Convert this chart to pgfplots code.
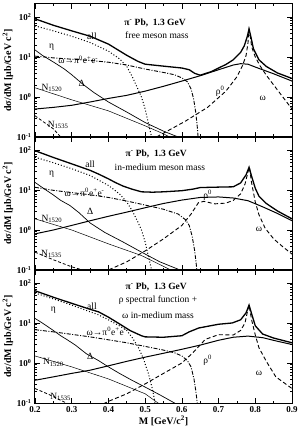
\documentclass[border=0pt]{standalone}
\usepackage{fontspec}
\setmainfont{Liberation Serif}
\usepackage{pgfplots}
\pgfplotsset{compat=1.18}
\tikzset{
 allc/.style={black, line width=1.3pt},
 rhoc/.style={black, line width=1.0pt},
 delc/.style={black, line width=0.7pt},
 nac/.style={black, line width=0.5pt},
 nbc/.style={black, line width=0.8pt, dash pattern=on 3pt off 2pt},
 etac/.style={black, line width=1.0pt, dash pattern=on 1pt off 2pt},
 omc/.style={black, line width=0.9pt, dash pattern=on 4pt off 2.5pt},
 omdc/.style={black, line width=0.9pt, dash pattern=on 4pt off 1.5pt on 1pt off 1.5pt},
 lab/.style={font=\fontsize{9.5}{11}\selectfont},
 ttl/.style={font=\bfseries\fontsize{9.5}{11}\selectfont},
}
\begin{document}
\begin{tikzpicture}
\useasboundingbox (-35pt,-33pt) rectangle (269pt,403pt);
% ---------------- panel 1 ----------------
\begin{axis}[scale only axis, width=257pt, height=133pt,
  xmin=0.2, xmax=0.9, ymode=log, ymin=0.1, ymax=211,
  xtick={0.2,0.3,0.4,0.5,0.6,0.7,0.8,0.9}, minor x tick num=1,
  ytick={0.1,1,10,100},
  yticklabels={\textbf{10}\textsuperscript{\textbf{-1}},\textbf{10}\textsuperscript{\textbf{0}},\textbf{10}\textsuperscript{\textbf{1}},\textbf{10}\textsuperscript{\textbf{2}}},
  tick align=inside, major tick length=5pt, minor tick length=2.5pt,
  tick style={black, line width=0.7pt}, axis line style={line width=1pt},
  ticklabel style={font=\bfseries\fontsize{9}{10}\selectfont},
  ylabel={\textbf{dσ/dM [μb/GeV c\textsuperscript{2}]}},
  ylabel style={at={(axis description cs:-0.105,0.5)}, anchor=center, font=\fontsize{10}{11}\selectfont},
  at={(0,266pt)}, xticklabels={}]
\addplot[allc] coordinates {(0.2,90) (0.25,62) (0.3,45) (0.35,33) (0.4,21) (0.45,11) (0.48,7.8) (0.5,6.6) (0.55,5.9) (0.6,5.3) (0.62,4.8) (0.635,3.9) (0.65,3.5) (0.68,4.3) (0.7,5.3) (0.72,6.5) (0.74,8.5) (0.76,13) (0.77,19) (0.778,32) (0.783,50) (0.788,32) (0.795,16) (0.81,8.5) (0.83,5.8) (0.86,4.0) (0.9,2.9)};
\addplot[etac] coordinates {(0.2,60) (0.25,45) (0.3,33) (0.35,23) (0.4,14) (0.43,9) (0.45,5.8) (0.465,3.2) (0.48,1.6) (0.49,1.0) (0.5,0.5) (0.51,0.2) (0.52,0.08)};
\addplot[rhoc] coordinates {(0.2,0.5) (0.25,0.55) (0.3,0.62) (0.35,0.75) (0.4,0.92) (0.45,1.1) (0.5,1.4) (0.55,1.85) (0.6,2.5) (0.65,3.4) (0.7,4.8) (0.74,6.3) (0.76,6.8) (0.78,6.6) (0.8,5.6) (0.85,3.8) (0.9,2.5)};
\addplot[omc] coordinates {(0.5,0.07) (0.56,0.14) (0.61,0.25) (0.67,0.55) (0.72,1.4) (0.75,3.2) (0.765,6) (0.775,11) (0.78,22) (0.783,48) (0.787,30) (0.79,18) (0.8,10) (0.813,6) (0.83,3.5) (0.85,2) (0.875,1) (0.9,0.5)};
\addplot[omdc] coordinates {(0.2,10.5) (0.25,9.5) (0.3,8.8) (0.35,8.2) (0.4,7.4) (0.45,6.3) (0.5,5.0) (0.55,4.1) (0.58,3.6) (0.6,3.0) (0.615,2.4) (0.625,1.6) (0.632,0.9) (0.638,0.4) (0.642,0.18) (0.645,0.08)};
\addplot[delc] coordinates {(0.2,15) (0.22,11) (0.25,7.5) (0.28,5) (0.3,3.6) (0.33,2.1) (0.36,1.3) (0.4,0.75) (0.45,0.42) (0.5,0.23) (0.55,0.14) (0.59,0.1) (0.62,0.07)};
\addplot[nac] coordinates {(0.2,1.7) (0.3,0.85) (0.4,0.45) (0.5,0.19) (0.55,0.12) (0.6,0.07)};
\addplot[nbc] coordinates {(0.2,0.34) (0.22,0.25) (0.25,0.16) (0.27,0.1) (0.3,0.06)};
\node[ttl] at (axis cs:0.527,71) {π\textsuperscript{-} Pb,\ \ 1.3 GeV};
\node[lab] at (axis cs:0.532,35) {free meson mass};
\node[lab] at (axis cs:0.355,33) {all};
\node[lab] at (axis cs:0.245,17) {η};
\node[lab] at (axis cs:0.318,8.5) {ω→π\textsuperscript{0}e\textsuperscript{+}e\textsuperscript{-}};
\node[lab] at (axis cs:0.327,2.2) {Δ};
\node[lab] at (axis cs:0.246,1.66) {N\textsubscript{1520}};
\node[lab] at (axis cs:0.263,0.2) {N\textsubscript{1535}};
\node[lab] at (axis cs:0.704,1.4) {ρ\textsuperscript{0}};
\node[lab] at (axis cs:0.82,0.95) {ω};
\end{axis}
% ---------------- panel 2 ----------------
\begin{axis}[scale only axis, width=257pt, height=133pt,
  xmin=0.2, xmax=0.9, ymode=log, ymin=0.1, ymax=211,
  xtick={0.2,0.3,0.4,0.5,0.6,0.7,0.8,0.9}, minor x tick num=1,
  ytick={0.1,1,10,100},
  yticklabels={\textbf{10}\textsuperscript{\textbf{-1}},\textbf{10}\textsuperscript{\textbf{0}},\textbf{10}\textsuperscript{\textbf{1}},\textbf{10}\textsuperscript{\textbf{2}}},
  tick align=inside, major tick length=5pt, minor tick length=2.5pt,
  tick style={black, line width=0.7pt}, axis line style={line width=1pt},
  ticklabel style={font=\bfseries\fontsize{9}{10}\selectfont},
  ylabel={\textbf{dσ/dM [μb/GeV c\textsuperscript{2}]}},
  ylabel style={at={(axis description cs:-0.105,0.5)}, anchor=center, font=\fontsize{10}{11}\selectfont},
  at={(0,133pt)}, xticklabels={}]
\addplot[allc] coordinates {(0.2,96) (0.25,65) (0.3,45) (0.35,31) (0.373,25) (0.4,19) (0.418,15.5) (0.44,12.5) (0.464,10.5) (0.49,9) (0.52,8.8) (0.55,9.0) (0.6,9.6) (0.63,10.5) (0.65,11.5) (0.7,11.8) (0.74,12) (0.76,15) (0.775,24) (0.783,37) (0.79,22) (0.8,11) (0.81,7) (0.83,4.6) (0.86,3) (0.9,1.9)};
\addplot[etac] coordinates {(0.2,66) (0.25,48) (0.3,34) (0.35,23) (0.4,13) (0.43,8) (0.45,5) (0.465,3) (0.48,1.6) (0.49,1.0) (0.5,0.5) (0.51,0.2) (0.52,0.08)};
\addplot[rhoc] coordinates {(0.2,0.8) (0.25,1.0) (0.3,1.3) (0.35,1.7) (0.4,2.2) (0.45,2.8) (0.5,3.6) (0.55,4.6) (0.6,5.6) (0.65,6.5) (0.7,6.7) (0.74,6.3) (0.78,5.4) (0.82,3.8) (0.86,2.6) (0.9,1.7)};
\addplot[omc] coordinates {(0.37,0.07) (0.4,0.1) (0.45,0.16) (0.5,0.3) (0.55,0.6) (0.6,1.3) (0.625,2.5) (0.645,4.8) (0.66,5.2) (0.69,4.5) (0.72,4.7) (0.74,5.5) (0.76,8) (0.772,14) (0.78,28) (0.784,37) (0.79,15) (0.8,5) (0.81,2.4) (0.827,1.1) (0.85,0.6) (0.875,0.38) (0.9,0.25)};
\addplot[omdc] coordinates {(0.2,11.7) (0.25,9.8) (0.3,8.6) (0.35,7.6) (0.4,6.5) (0.45,5.3) (0.5,4.2) (0.55,3.3) (0.59,2.5) (0.61,1.8) (0.62,1.3) (0.628,0.7) (0.635,0.3) (0.64,0.12) (0.643,0.06)};
\addplot[delc] coordinates {(0.2,15.5) (0.22,11.5) (0.25,7.5) (0.27,5.5) (0.295,4.1) (0.32,2.7) (0.35,1.5) (0.39,0.87) (0.44,0.5) (0.49,0.28) (0.54,0.16) (0.595,0.1) (0.62,0.08)};
\addplot[nac] coordinates {(0.2,1.9) (0.3,1.0) (0.4,0.45) (0.49,0.23) (0.57,0.1) (0.6,0.08)};
\addplot[nbc] coordinates {(0.2,0.28) (0.25,0.18) (0.3,0.12) (0.33,0.1) (0.36,0.08)};
\node[ttl] at (axis cs:0.53,80) {π\textsuperscript{-} Pb,\ \ 1.3 GeV};
\node[lab] at (axis cs:0.54,37) {in-medium meson mass};
\node[lab] at (axis cs:0.35,45) {all};
\node[lab] at (axis cs:0.245,25) {η};
\node[lab] at (axis cs:0.335,8.7) {ω→π\textsuperscript{0}e\textsuperscript{+}e\textsuperscript{-}};
\node[lab] at (axis cs:0.35,3.0) {Δ};
\node[lab] at (axis cs:0.246,1.9) {N\textsubscript{1520}};
\node[lab] at (axis cs:0.245,0.25) {N\textsubscript{1535}};
\node[lab] at (axis cs:0.67,7.2) {ρ\textsuperscript{0}};
\node[lab] at (axis cs:0.81,1.06) {ω};
\end{axis}
% ---------------- panel 3 ----------------
\begin{axis}[scale only axis, width=257pt, height=133pt,
  xmin=0.2, xmax=0.9, ymode=log, ymin=0.1, ymax=211,
  xtick={0.2,0.3,0.4,0.5,0.6,0.7,0.8,0.9}, minor x tick num=1,
  ytick={0.1,1,10,100},
  yticklabels={\textbf{10}\textsuperscript{\textbf{-1}},\textbf{10}\textsuperscript{\textbf{0}},\textbf{10}\textsuperscript{\textbf{1}},\textbf{10}\textsuperscript{\textbf{2}}},
  tick align=inside, major tick length=5pt, minor tick length=2.5pt,
  tick style={black, line width=0.7pt}, axis line style={line width=1pt},
  ticklabel style={font=\bfseries\fontsize{9}{10}\selectfont},
  ylabel={\textbf{dσ/dM [μb/GeV c\textsuperscript{2}]}},
  ylabel style={at={(axis description cs:-0.105,0.5)}, anchor=center, font=\fontsize{10}{11}\selectfont},
  at={(0,0)},
  xticklabels={0.2,0.3,0.4,0.5,0.6,0.7,0.8,0.9},
  xlabel={\textbf{M [GeV/c\textsuperscript{2}]}},
  xlabel style={at={(axis description cs:0.5,-0.135)}, anchor=center, font=\fontsize{10}{11}\selectfont}]
\addplot[allc] coordinates {(0.2,64) (0.25,44) (0.3,31) (0.35,22) (0.373,19) (0.4,14) (0.43,9.5) (0.46,6.4) (0.49,4.8) (0.5,4.5) (0.55,4.4) (0.6,4.8) (0.62,6) (0.646,7.5) (0.7,9.3) (0.737,10) (0.76,12) (0.775,18) (0.783,28) (0.79,17) (0.8,8.5) (0.82,5.3) (0.85,4.2) (0.9,3.2)};
\addplot[etac] coordinates {(0.2,56) (0.25,40) (0.3,28) (0.35,19) (0.373,16) (0.4,12) (0.43,8.5) (0.45,6.5) (0.465,4.3) (0.482,2.4) (0.495,1.3) (0.509,0.54) (0.52,0.22) (0.527,0.1) (0.535,0.05)};
\addplot[rhoc] coordinates {(0.2,0.37) (0.25,0.45) (0.3,0.55) (0.35,0.66) (0.4,0.85) (0.45,1.1) (0.5,1.4) (0.55,1.75) (0.6,2.2) (0.65,2.8) (0.7,3.7) (0.74,4.4) (0.78,4.7) (0.82,4.3) (0.86,3.5) (0.9,2.9)};
\addplot[omc] coordinates {(0.37,0.08) (0.4,0.11) (0.45,0.17) (0.5,0.3) (0.55,0.55) (0.6,1.0) (0.63,1.8) (0.664,3.9) (0.7,5.1) (0.74,5.0) (0.76,6.5) (0.772,10) (0.779,20) (0.783,28) (0.79,12) (0.8,5) (0.81,2.4) (0.83,1.1) (0.856,0.45) (0.9,0.23)};
\addplot[omdc] coordinates {(0.2,6.8) (0.25,6.0) (0.3,5.2) (0.35,4.5) (0.4,3.8) (0.45,3.2) (0.5,2.6) (0.55,2.1) (0.58,1.8) (0.6,1.5) (0.615,1.15) (0.625,0.8) (0.633,0.4) (0.638,0.2) (0.642,0.1) (0.645,0.05)};
\addplot[delc] coordinates {(0.2,13) (0.22,10) (0.25,6.5) (0.27,4.8) (0.286,3.9) (0.31,2.8) (0.34,1.7) (0.373,1.15) (0.4,0.8) (0.43,0.55) (0.464,0.37) (0.5,0.25) (0.54,0.16) (0.58,0.1) (0.62,0.06)};
\addplot[nac] coordinates {(0.2,1.5) (0.3,0.8) (0.4,0.4) (0.5,0.17) (0.535,0.1) (0.57,0.07)};
\addplot[nbc] coordinates {(0.2,0.23) (0.24,0.16) (0.285,0.1) (0.31,0.08)};
\node[ttl] at (axis cs:0.53,80) {π\textsuperscript{-} Pb,\ \ 1.3 GeV};
\node[lab] at (axis cs:0.535,37) {ρ spectral function +};
\node[lab] at (axis cs:0.535,16) {ω in-medium mass};
\node[lab] at (axis cs:0.355,26) {all};
\node[lab] at (axis cs:0.25,21) {η};
\node[lab] at (axis cs:0.395,6.2) {ω→π\textsuperscript{0}e\textsuperscript{+}e\textsuperscript{-}};
\node[lab] at (axis cs:0.35,1.5) {Δ};
\node[lab] at (axis cs:0.25,1.03) {N\textsubscript{1520}};
\node[lab] at (axis cs:0.27,0.14) {N\textsubscript{1535}};
\node[lab] at (axis cs:0.67,1.15) {ρ\textsuperscript{0}};
\node[lab] at (axis cs:0.81,0.54) {ω};
\end{axis}
\end{tikzpicture}
\end{document}
